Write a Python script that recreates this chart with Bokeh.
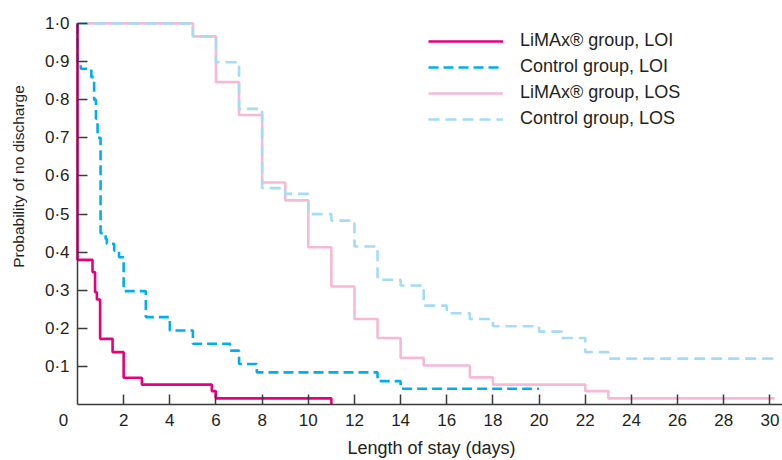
import math
from bokeh.plotting import figure
from bokeh.models import Range1d, FixedTicker, Legend, LegendItem, Label, LinearAxis
from bokeh.embed import file_html
from bokeh.resources import INLINE

# ---- data ----
limax_loi_t = [0, 0, 0.65, 0.76, 0.84, 0.98, 1.52, 2.0, 2.79, 5.82, 5.99, 11.0]
limax_loi_p = [1.0, 0.38, 0.348, 0.295, 0.276, 0.173, 0.138, 0.071, 0.053, 0.036, 0.017, 0.0]

control_loi_t = [0, 0, 0.14, 0.6, 0.72, 0.8, 0.87, 1.0, 1.22, 1.27, 1.59, 1.80,
                 2.0, 2.96, 4.0, 5.0, 6.61, 7.0, 7.77, 13.0, 14.0, 20.0]
control_loi_p = [1.0, 0.898, 0.881, 0.859, 0.80, 0.75, 0.70, 0.45, 0.435, 0.422, 0.404, 0.387,
                 0.298, 0.230, 0.195, 0.160, 0.142, 0.107, 0.085, 0.062, 0.042, 0.042]

limax_los_t = [0, 5, 6, 7, 8, 9, 10, 11, 12, 13, 14, 15, 17, 18, 22, 23, 30.2]
limax_los_p = [1.0, 0.966, 0.846, 0.760, 0.583, 0.536, 0.413, 0.310, 0.225, 0.175,
               0.123, 0.103, 0.072, 0.053, 0.036, 0.017, 0.017]

control_los_t = [0, 5, 6, 7, 8, 9, 10, 11, 12, 13, 14, 15, 16, 17, 18, 20, 21, 22, 23, 30.2]
control_los_p = [1.0, 0.966, 0.898, 0.776, 0.568, 0.553, 0.50, 0.483, 0.415, 0.328,
                 0.313, 0.260, 0.240, 0.225, 0.206, 0.192, 0.175, 0.138, 0.121, 0.121]

series_names = ["LiMAx® group, LOI", "Control group, LOI",
                "LiMAx® group, LOS", "Control group, LOS"]

x_ticks = [2, 4, 6, 8, 10, 12, 14, 16, 18, 20, 22, 24, 26, 28, 30]
origin_label = "0"
y_ticks = [0.1, 0.2, 0.3, 0.4, 0.5, 0.6, 0.7, 0.8, 0.9, 1.0]
y_tick_labels = ["0·1", "0·2", "0·3", "0·4", "0·5", "0·6", "0·7", "0·8", "0·9", "1·0"]

x_title = "Length of stay (days)"
y_title = "Probability of no discharge"

FONT = "Liberation Sans"
TXT = "#231f20"
AX = "#3a3a3a"

# frame covers the whole canvas; axes are pinned at x=0 / y=0
p = figure(width=782, height=460, output_backend="svg", toolbar_location=None,
           x_range=Range1d(-3.336, 30.546), y_range=Range1d(-0.146, 1.060),
           x_axis_type=None, y_axis_type=None,
           min_border_left=0, min_border_right=0, min_border_top=0, min_border_bottom=0)
p.background_fill_color = "white"
p.border_fill_color = "white"
p.outline_line_color = None
p.grid.visible = False

# draw order: LOS first, then LOI
r_limax_los = p.step(limax_los_t, limax_los_p, mode="after", line_color="#f7b9d6", line_width=2.6)
r_control_los = p.step(control_los_t, control_los_p, mode="after", line_color="#a4dcf5",
                       line_width=2.6, line_dash="11 6")
r_control_loi = p.step(control_loi_t, control_loi_p, mode="after", line_color="#00aeef",
                       line_width=2.6, line_dash="10 5")
r_limax_loi = p.step(limax_loi_t, limax_loi_p, mode="after", line_color="#e6007e", line_width=2.6)

# axes
xa = LinearAxis(fixed_location=0, bounds=(0, 30.546))
xa.ticker = FixedTicker(ticks=x_ticks)
xa.major_tick_in = 10
xa.major_tick_out = 0
xa.minor_tick_in = 0
xa.minor_tick_out = 0
xa.axis_line_color = AX
xa.axis_line_width = 1.5
xa.major_tick_line_color = AX
xa.major_tick_line_width = 1.5
xa.major_label_text_font = FONT
xa.major_label_text_font_size = "17px"
xa.major_label_text_color = TXT
xa.major_label_standoff = 9
p.add_layout(xa, "below")

ya = LinearAxis(fixed_location=0, bounds=(0, 1.0))
ya.ticker = FixedTicker(ticks=y_ticks)
ya.major_label_overrides = {t: l for t, l in zip(y_ticks, y_tick_labels)}
ya.major_tick_in = 10
ya.major_tick_out = 0
ya.minor_tick_in = 0
ya.minor_tick_out = 0
ya.axis_line_color = AX
ya.axis_line_width = 1.5
ya.major_tick_line_color = AX
ya.major_tick_line_width = 1.5
ya.major_label_text_font = FONT
ya.major_label_text_font_size = "17px"
ya.major_label_text_color = TXT
ya.major_label_standoff = 8
p.add_layout(ya, "left")

# origin label and axis titles
p.add_layout(Label(x=0, y=0, text=origin_label, x_offset=-14, y_offset=-9,
                   text_align="center", text_baseline="top",
                   text_font=FONT, text_font_size="17px", text_color=TXT))
p.add_layout(Label(x=15.34, y=0, text=x_title, y_offset=-33,
                   text_align="center", text_baseline="top",
                   text_font=FONT, text_font_size="18px", text_color=TXT))
p.add_layout(Label(x=0, y=0.5986, text=y_title, x_offset=-59, angle=math.pi / 2,
                   text_align="center", text_baseline="middle",
                   text_font=FONT, text_font_size="15.5px", text_color=TXT))

legend = Legend(items=[
    LegendItem(label=series_names[0], renderers=[r_limax_loi]),
    LegendItem(label=series_names[1], renderers=[r_control_loi]),
    LegendItem(label=series_names[2], renderers=[r_limax_los]),
    LegendItem(label=series_names[3], renderers=[r_control_los]),
], location=(428, 331))
legend.background_fill_alpha = 0
legend.border_line_color = None
legend.padding = 0
legend.margin = 0
legend.spacing = 5
legend.glyph_width = 75
legend.glyph_height = 20
legend.label_height = 20
legend.label_standoff = 17
legend.label_text_font = FONT
legend.label_text_font_size = "18px"
legend.label_text_color = TXT
p.add_layout(legend)

open("out.html", "w").write(file_html(p, INLINE))
